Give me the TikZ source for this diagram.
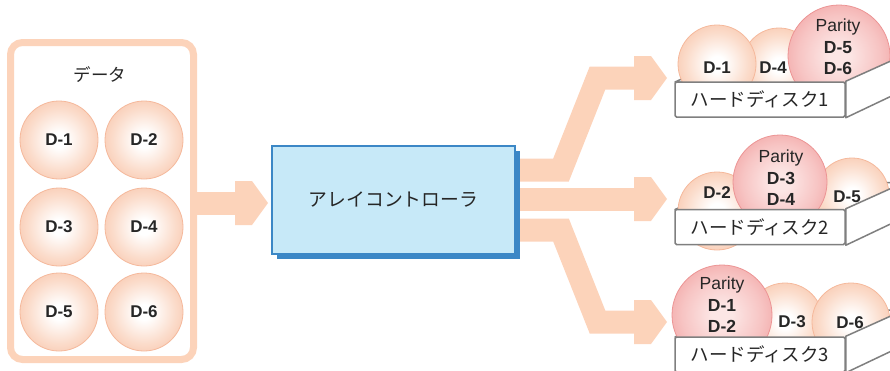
\documentclass[tikz,border=0pt]{standalone}
\usepackage{fontspec}
\setmainfont{Liberation Sans}
\newfontfamily\jp{Noto Sans CJK JP}
\usetikzlibrary{shadows,calc}

\definecolor{flow}{HTML}{FCD3BA}
\definecolor{ballpeach}{HTML}{F8BFA2}
\definecolor{ballmid}{HTML}{FBDCCB}
\definecolor{ballline}{HTML}{F5B99C}
\definecolor{paritycore}{HTML}{FCE6E5}
\definecolor{paritymid}{HTML}{F7C4C3}
\definecolor{parityrim}{HTML}{F09B9B}
\definecolor{parityline}{HTML}{EC9494}
\definecolor{ctrlfill}{HTML}{C7E9F8}
\definecolor{ctrlblue}{HTML}{3B87C6}
\definecolor{diskgray}{HTML}{7F7F7F}
\definecolor{ink}{HTML}{262626}

% soft spheres: pale core fading to the rim colour
\pgfdeclareradialshading{databall}{\pgfpoint{0bp}{0bp}}{color(0bp)=(white); color(5bp)=(white); color(20bp)=(ballmid); color(34bp)=(ballpeach); color(50bp)=(ballpeach)}
\pgfdeclareradialshading{parityball}{\pgfpoint{0bp}{0bp}}{color(0bp)=(paritycore); color(5bp)=(paritycore); color(20bp)=(paritymid); color(34bp)=(parityrim); color(50bp)=(parityrim)}

\begin{document}
\begin{tikzpicture}[x=1pt,y=-1pt,
  lbl/.style={font=\fontsize{17}{20}\selectfont\bfseries, text=ink, inner sep=0pt},
  ball/.style={circle, inner sep=0pt, draw=ballline, line width=0.8pt, shade, shading=databall,
    font=\fontsize{17}{20}\selectfont\bfseries, text=ink},
  pball/.style={ball, draw=parityline, shading=parityball},
  stack/.style={align=center, font=\fontsize{17.5}{21.5}\selectfont, text=ink, inner sep=0pt},
  diskfront/.style={draw=diskgray, line width=1.5pt, fill=white, rounded corners=1.5pt,
    minimum width=170pt, minimum height=35pt, inner sep=0pt,
    font=\jp\fontsize{18.5}{20}\selectfont, text=ink},
  diskface/.style={draw=diskgray, line width=1.5pt, fill=white, line join=round},
  flowline/.style={draw=flow, line width=23pt, line join=miter, line cap=butt},
  fathead/.pic={\fill[flow] (0,0) -- (-16,-22) -- (-33,-22) -- (-33,22) -- (-16,22) -- cycle;},
  jptext/.style={text=ink, inner sep=0pt}
]
\useasboundingbox (0,0) rectangle (890,370);
\clip (0,0) rectangle (890,370);

% ---- data block ----
\node[draw=flow, line width=7pt, rounded corners=12pt, fill=white,
      minimum width=183pt, minimum height=317pt] (data) at (102,201) {};
\node[jptext, font=\jp\fontsize{17.5}{20}\selectfont] (datatitle) at (100,75) {データ};
\node[ball, minimum size=78pt] (c1) at (59,140) {D-1};
\node[ball, minimum size=78pt] (c2) at (144,140) {D-2};
\node[ball, minimum size=78pt] (c3) at (59,227) {D-3};
\node[ball, minimum size=78pt] (c4) at (144,227) {D-4};
\node[ball, minimum size=78pt] (c5) at (59,312) {D-5};
\node[ball, minimum size=78pt] (c6) at (144,312) {D-6};

% ---- flow into the controller ----
\coordinate (inTip) at (268,203);
\draw[flowline] (data.east |- inTip) -- ($(inTip)+(-30,0)$);
\pic at (inTip) {fathead};

% ---- flows out to the disks ----
\coordinate (tipA) at (667,78);
\coordinate (tipB) at (667,199);
\coordinate (tipC) at (667,322);
\coordinate (outA) at (505,170);
\coordinate (outB) at (505,199);
\coordinate (outC) at (505,230);
\draw[flowline] (outA) -- (561,170) -- (597.5,78) -- ($(tipA)+(-30,0)$);
\draw[flowline] (outB) -- ($(tipB)+(-30,0)$);
\draw[flowline] (outC) -- (561,230) -- (597.5,322) -- ($(tipC)+(-30,0)$);
\pic at (tipA) {fathead};
\pic at (tipB) {fathead};
\pic at (tipC) {fathead};

% ---- array controller ----
\node[draw=ctrlblue, line width=1.8pt, fill=ctrlfill,
      minimum width=243pt, minimum height=108pt,
      drop shadow={shadow xshift=5pt, shadow yshift=-5pt, fill=ctrlblue, opacity=1},
      jptext, font=\jp\fontsize{18.8}{20}\selectfont] (ctrl) at (393.5,200) {アレイコントローラ};

% ---- disk 1 ----
\coordinate (d1) at (760,99.5);
\draw[diskface] ($(d1)+(-85,-17.5)$) -- ++(60,-27) -- ++(170,0) -- ($(d1)+(85,-17.5)$) -- cycle;
\node[ball, minimum size=74pt] (s14) at (779,65) {};
\node[ball, minimum size=78pt] (s11) at (717,64) {};
\node[pball, minimum size=102pt] (s1p) at (839,56) {};
\node[lbl] (l11) at (717,68) {D-1};
\node[lbl] (l14) at (773,68) {D-4};
\node[stack] (l1p) at (838,47) {Parity\\\textbf{D-5}\\\textbf{D-6}};
\node[diskfront] (disk1) at (d1) {ハードディスク1};
\draw[diskface] (disk1.north east) -- ++(60,-27) -- ++(0,35) -- (disk1.south east) -- cycle;

% ---- disk 2 ----
\coordinate (d2) at (760,227);
\draw[diskface] ($(d2)+(-85,-17.5)$) -- ++(60,-27) -- ++(170,0) -- ($(d2)+(85,-17.5)$) -- cycle;
\node[ball, minimum size=78pt] (s22) at (717,211) {};
\node[ball, minimum size=74pt] (s25) at (852,195) {};
\node[pball, minimum size=94pt] (s2p) at (780,182) {};
\node[lbl] (l22) at (717,193) {D-2};
\node[lbl] (l25) at (847,197) {D-5};
\node[stack] (l2p) at (781,178) {Parity\\\textbf{D-3}\\\textbf{D-4}};
\node[diskfront] (disk2) at (d2) {ハードディスク2};
\draw[diskface] (disk2.north east) -- ++(60,-27) -- ++(0,35) -- (disk2.south east) -- cycle;

% ---- disk 3 ----
\coordinate (d3) at (760,354.5);
\draw[diskface] ($(d3)+(-85,-17.5)$) -- ++(60,-27) -- ++(170,0) -- ($(d3)+(85,-17.5)$) -- cycle;
\node[ball, minimum size=76pt] (s33) at (785,321) {};
\node[ball, minimum size=78pt] (s36) at (851,322) {};
\node[pball, minimum size=100pt] (s3p) at (722,315) {};
\node[lbl] (l33) at (792,322) {D-3};
\node[lbl] (l36) at (850,323) {D-6};
\node[stack] (l3p) at (722,305) {Parity\\\textbf{D-1}\\\textbf{D-2}};
\node[diskfront] (disk3) at (d3) {ハードディスク3};
\draw[diskface] (disk3.north east) -- ++(60,-27) -- ++(0,35) -- (disk3.south east) -- cycle;
\end{tikzpicture}
\end{document}
